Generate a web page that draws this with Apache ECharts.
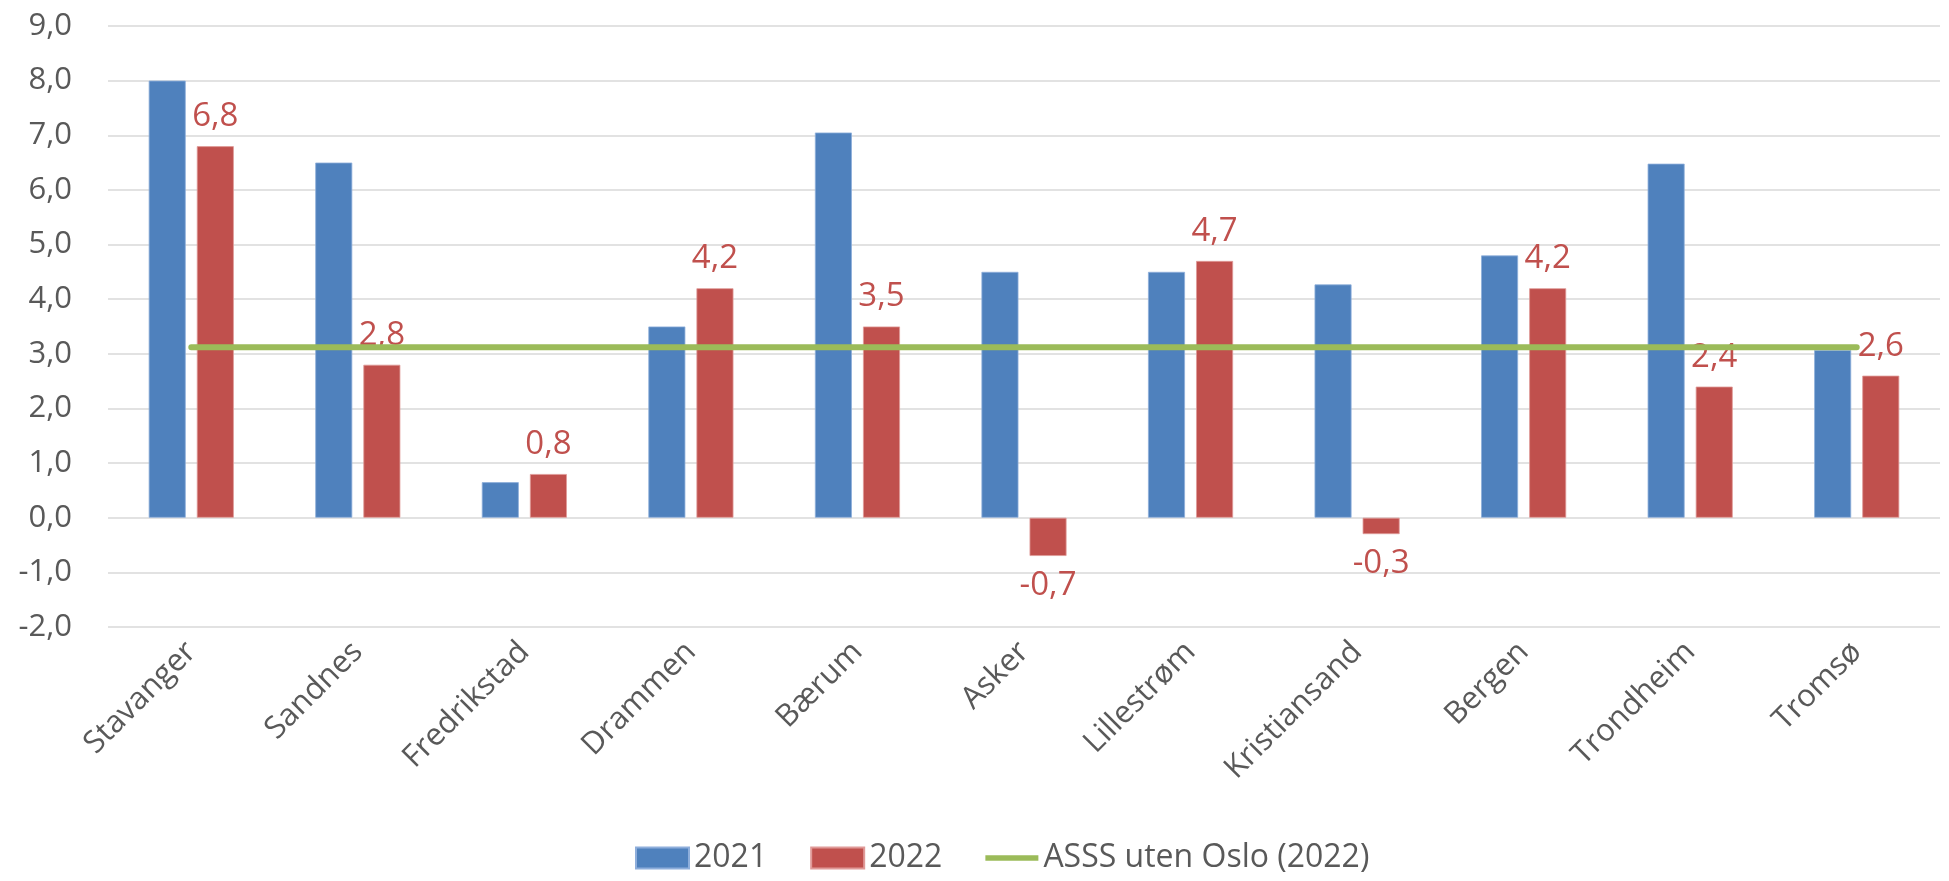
<!DOCTYPE html>
<html>
<head>
<meta charset="utf-8">
<script src="https://cdn.jsdelivr.net/npm/echarts@6/dist/echarts.min.js"></script>
<style>
  html, body { margin: 0; padding: 0; background: #ffffff; }
  #chart { width: 1949px; height: 881px; }
</style>
</head>
<body>
<div id="chart"></div>
<script>
// kategorier (kommuner)
const cities = ["Stavanger", "Sandnes", "Fredrikstad", "Drammen", "Bærum", "Asker",
  "Lillestrøm", "Kristiansand", "Bergen", "Trondheim", "Tromsø"];
// verdier lest av figuren
const values2021 = [8.0, 6.5, 0.65, 3.5, 7.05, 4.5, 4.5, 4.27, 4.8, 6.48, 3.07];
const values2022 = [6.8, 2.8, 0.8, 4.2, 3.5, -0.7, 4.7, -0.3, 4.2, 2.4, 2.6];
const asssLine = [3.12, 3.12, 3.12, 3.12, 3.12, 3.12, 3.12, 3.12, 3.12, 3.12, 3.12];
const yTicks = { min: -2, max: 9, interval: 1 };

const fmt = v => v.toFixed(1).replace(".", ",");
const font = "'Open Sans', 'Liberation Sans', sans-serif";

let chart = echarts.init(document.getElementById("chart"));
chart.setOption({
  animation: false,
  textStyle: { fontFamily: font },
  grid: { left: 108, right: 9, top: 26, bottom: 254 },
  legend: {
    bottom: 2,
    left: 630,
    itemWidth: 53,
    itemHeight: 21,
    itemGap: 43,
    textStyle: { fontSize: 32, color: "#595959", fontFamily: font },
    data: [
      { name: "2021", icon: "rect" },
      { name: "2022", icon: "rect" },
      { name: "ASSS uten Oslo (2022)", icon: "path://M0,0 L10,0 L10,1 L0,1 Z" }
    ]
  },
  xAxis: {
    type: "category",
    data: cities,
    axisLine: { show: false, onZero: false },
    axisTick: { show: false },
    axisLabel: {
      rotate: 45,
      margin: 20,
      fontSize: 31,
      color: "#595959",
      interval: 0
    }
  },
  yAxis: {
    type: "value",
    min: yTicks.min,
    max: yTicks.max,
    interval: yTicks.interval,
    axisLine: { show: false },
    axisTick: { show: false },
    axisLabel: {
      margin: 36,
      fontSize: 31,
      color: "#595959",
      formatter: v => fmt(v)
    },
    splitLine: { lineStyle: { color: "#D9D9D9", width: 1.5 } }
  },
  series: [
    {
      name: "2021",
      type: "bar",
      data: values2021,
      barWidth: 37,
      barGap: "30%",
      itemStyle: { color: "#4F81BD", borderColor: "#8EAEDB", borderWidth: 0.8 }
    },
    {
      name: "2022",
      type: "bar",
      data: values2022.map(v => ({
        value: v,
        label: { position: v < 0 ? "bottom" : "top" }
      })),
      barWidth: 37,
      barGap: "30%",
      itemStyle: { color: "#C0504D", borderColor: "#E09A98", borderWidth: 0.8 },
      label: {
        show: true,
        distance: 13,
        fontSize: 33,
        color: "#C0504D",
        formatter: p => fmt(p.value)
      }
    },
    {
      name: "ASSS uten Oslo (2022)",
      type: "line",
      data: asssLine,
      symbol: "none",
      z: 5,
      color: "#9BBB59",
      lineStyle: { color: "#9BBB59", width: 6, cap: "round" }
    }
  ]
});
</script>
</body>
</html>
